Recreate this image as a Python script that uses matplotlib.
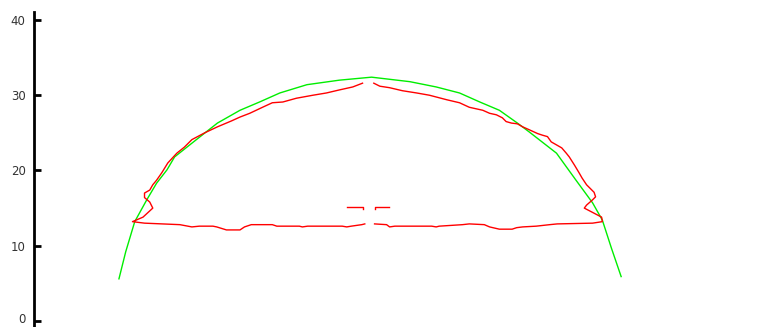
import matplotlib
matplotlib.use("Agg")
import matplotlib.pyplot as plt
from matplotlib.transforms import ScaledTranslation

# green arc
green_x = [-33.6, -32.7, -31.5, -29.9, -28.6, -27.2, -26.2, -23.3, -20.5, -17.5,
           -14.9, -12.2, -8.6, -4.3, 0.0, 5.1, 8.6, 11.7, 14.4, 17.0,
           19.4, 21.0, 24.6, 27.2, 29.4, 30.7, 31.9, 33.2]
green_y = [5.6, 9.2, 13.2, 16.1, 18.3, 20.1, 21.8, 24.1, 26.3, 28.0,
           29.1, 30.3, 31.4, 32.0, 32.4, 31.8, 31.1, 30.3, 29.1, 28.0,
           26.3, 25.1, 22.3, 18.7, 15.7, 13.4, 9.7, 5.9]

# red outline, left half (bottom from centre, loop, then up to the top)
red_left_x = [-0.9, -1.3, -2.7, -3.3, -3.9, -8.5, -9.2, -9.6, -12.6, -13.2,
              -14.0, -16.0, -16.9, -17.5, -19.3, -20.6, -21.1, -22.9, -23.9, -25.5,
              -30.2, -31.8, -30.4, -29.1, -29.5, -30.2, -30.2, -29.5, -29.1, -28.6,
              -27.9, -27.1, -25.9, -24.9, -23.9, -22.2, -20.5, -18.6, -17.5, -16.2,
              -14.5, -13.2, -11.8, -10.0, -7.8, -6.0, -4.3, -2.5, -1.2]
red_left_y = [12.9, 12.8, 12.6, 12.5, 12.6, 12.6, 12.5, 12.6, 12.6, 12.8,
              12.8, 12.8, 12.5, 12.1, 12.1, 12.5, 12.6, 12.6, 12.5, 12.8,
              13.0, 13.2, 13.8, 15.0, 15.8, 16.4, 17.0, 17.4, 18.1, 18.7,
              19.7, 21.0, 22.3, 23.1, 24.1, 25.0, 25.8, 26.6, 27.1, 27.6,
              28.4, 29.0, 29.1, 29.6, 30.0, 30.3, 30.7, 31.1, 31.6]

# red outline, right half (top down, loop, then bottom back to centre)
red_right_x = [0.3, 1.1, 2.4, 4.1, 6.0, 7.7, 10.0, 11.7, 13.0, 14.8,
               15.7, 16.6, 17.4, 17.9, 18.6, 19.4, 20.1, 21.0, 22.1, 22.7,
               23.4, 23.9, 24.6, 25.3, 25.9, 26.3, 27.0, 27.6, 28.0, 28.6,
               29.0, 29.6, 29.8, 29.4, 28.6, 28.3, 30.6, 30.7, 29.4, 24.7,
               23.7, 21.9, 20.1, 19.3, 18.7, 17.0, 15.7, 15.0, 13.0, 12.1,
               9.0, 8.6, 8.0, 3.1, 2.4, 2.0, 0.4]
red_right_y = [31.6, 31.2, 31.0, 30.6, 30.3, 30.0, 29.4, 29.0, 28.4, 28.0,
               27.6, 27.4, 27.0, 26.5, 26.3, 26.2, 25.8, 25.4, 24.9, 24.7,
               24.5, 23.8, 23.4, 23.0, 22.3, 21.8, 20.7, 19.7, 19.0, 18.1,
               17.7, 17.1, 16.5, 16.1, 15.4, 15.0, 13.8, 13.2, 13.0, 12.9,
               12.8, 12.6, 12.5, 12.4, 12.2, 12.2, 12.5, 12.8, 12.9, 12.8,
               12.6, 12.5, 12.6, 12.6, 12.5, 12.8, 12.9]

# small dashes in the middle
dash_left_x = [-3.2, -1.2, -1.2]
dash_left_y = [15.15, 15.15, 14.9]
dash_right_x = [0.4, 0.4, 2.3]
dash_right_y = [14.9, 15.15, 15.15]

yticks = [0, 10, 20, 30, 40]

fig = plt.figure(figsize=(7.7, 3.27), dpi=100)
ax = fig.add_axes([34 / 770, 0, 736 / 770, 1 - 12 / 327])

ax.plot(green_x, green_y, color="#00ee00", lw=1.0)
ax.plot(red_left_x, red_left_y, color="#ff0000", lw=1.0)
ax.plot(red_right_x, red_right_y, color="#ff0000", lw=1.0)
ax.plot(dash_left_x, dash_left_y, color="#ff0000", lw=1.0)
ax.plot(dash_right_x, dash_right_y, color="#ff0000", lw=1.0)

ax.set_xlim(-44.9, 53.0)
ax.set_ylim(-0.8, 41.06)
for s in ["top", "right", "bottom"]:
    ax.spines[s].set_visible(False)
ax.spines["left"].set_linewidth(2)
ax.set_xticks([])
ax.set_yticks(yticks)
ax.tick_params(axis="y", direction="in", length=5, width=2, labelsize=8.5,
               pad=6, colors="black")
for lbl in ax.get_yticklabels():
    lbl.set_color("#333333")
# nudge the "0" label up a little so it stays inside the bottom edge
zero = ax.get_yticklabels()[0]
zero.set_transform(zero.get_transform() + ScaledTranslation(0, 2.5 / 100, fig.dpi_scale_trans))

fig.savefig("out.png", dpi=100)
